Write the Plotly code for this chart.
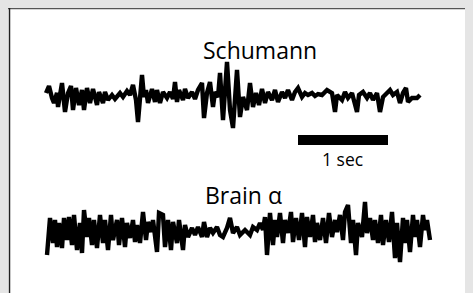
import numpy as np
import plotly.graph_objects as go

SAMPLE_RATE = 90.0  # samples per second

# Schumann resonance record: turning points (sample index, amplitude)
schumann_samples = [0, 3, 6, 8, 11, 12, 16, 19, 22, 25, 27, 30, 33, 36, 38, 41, 44, 47, 51, 53,
                    57, 59, 62, 66, 69, 74, 77, 81, 84, 87, 90, 92, 96, 98, 100, 102, 106, 109, 111, 114,
                    117, 121, 124, 127, 129, 131, 133, 137, 139, 142, 146, 149, 152, 156, 158, 161, 164, 167, 169, 172,
                    174, 177, 181, 184, 187, 189, 191, 194, 197, 201, 204, 207, 210, 213, 216, 219, 222, 226, 229, 232,
                    236, 239, 242, 246, 249, 252, 256, 259, 262, 266, 269, 272, 276, 281, 286, 289, 291, 296, 299, 302,
                    306, 311, 313, 317, 321, 324, 327, 331, 334, 337, 341, 344, 347, 351, 354, 357, 360, 362, 366, 371, 374]
schumann_values = [4, 11, -1, -6, 4, -10, 14, -15, 4, 11, -13, 9, -8, 7, -13, 9, -6, 8, -8, 5,
                   -6, 5, -3, 2, -2, 4, 0, 6, 2, 12, -3, -25, 22, 0, 7, -6, 8, -5, 7, -6,
                   5, -1, 5, -2, 15, -5, 7, -3, 8, -1, 5, -2, 7, 14, -21, 4, 15, -10, 5, 0,
                   24, -23, 35, -13, -31, 7, 27, -20, 0, -13, 14, -10, 4, -8, 8, -6, 5, -3, 7, -5,
                   5, -1, 7, -3, 5, 9, 0, 4, 2, 4, 1, 3, 2, 7, 4, -15, 2, -3, 5, -1,
                   4, -15, 2, 5, -1, 4, -3, 4, -15, 0, 4, 7, 2, 5, -6, 4, 9, -5, -1, -1, 2]

# Brain alpha (EEG) record: turning points (sample index, amplitude)
brain_samples = [1, 4, 7, 9, 11, 13, 16, 18, 21, 23, 26, 28, 31, 34, 36, 38, 41, 43, 46, 48,
                 51, 54, 57, 59, 62, 65, 67, 71, 73, 76, 79, 81, 84, 87, 89, 91, 94, 97, 100, 102,
                 105, 107, 111, 113, 117, 119, 122, 125, 127, 131, 133, 137, 139, 142, 146, 149, 152, 156, 158, 161,
                 164, 167, 171, 174, 177, 181, 184, 187, 191, 194, 199, 204, 207, 211, 214, 217, 219, 221, 224, 227,
                 229, 231, 234, 237, 239, 242, 245, 247, 250, 253, 256, 259, 261, 264, 267, 269, 271, 274, 277, 280,
                 283, 286, 289, 291, 294, 297, 299, 302, 305, 307, 310, 312, 316, 319, 321, 324, 327, 329, 332, 335,
                 337, 340, 343, 346, 349, 351, 354, 357, 359, 361, 364, 367, 369, 371, 374, 377, 379, 381, 384]
brain_values = [-23, 14, -11, 12, -15, 9, -16, 14, -8, 15, -13, 17, -18, 9, -21, 22, -5, 14, -13, 12,
                -16, 17, -11, 12, -18, 17, -8, 12, -13, 14, -15, 9, -6, 12, -10, 7, -11, 20, -8, 10,
                0, 12, -20, 19, 17, -15, 12, -18, 10, -11, 12, -18, 7, -5, 4, -3, 5, -5, 10, -5,
                4, -1, 5, -3, -5, 4, 14, -1, 5, -3, 2, -3, 5, 2, 9, 2, 15, -23, 19, -13,
                12, -5, 19, -11, 12, -1, 20, -10, 14, -8, 19, -15, 15, -5, 17, -10, 9, -8, 14, -11,
                19, -5, 12, 0, 17, -8, 20, 27, -11, 12, -23, 9, -5, 30, -1, 14, -8, 12, -11, 17,
                -13, 12, -10, 20, -26, 9, -30, 14, -11, 12, -20, 17, -5, 12, -15, 17, 2, 12, -8]

labels = {"schumann": "Schumann", "brain": "Brain α", "scale": "1 sec"}
scale_bar_start = 2.8   # seconds
scale_bar_length = 1.0  # seconds

W, H = 473, 293
OFF = 8  # page body margin in the browser
t_s = np.array(schumann_samples) / SAMPLE_RATE
t_b = np.array(brain_samples) / SAMPLE_RATE

fig = go.Figure()
fig.add_trace(go.Scatter(x=t_s, y=schumann_values, mode="lines",
                         line=dict(color="black", width=4.4), yaxis="y", showlegend=False,
                         hoverinfo="skip"))
fig.add_trace(go.Scatter(x=t_b, y=brain_values, mode="lines",
                         line=dict(color="black", width=4.4), yaxis="y2", showlegend=False,
                         hoverinfo="skip"))

# scale bar in Schumann axis units
fig.add_shape(type="rect", xref="x", yref="y",
              x0=scale_bar_start, x1=scale_bar_start + scale_bar_length,
              y0=-48, y1=-38, fillcolor="black", line=dict(width=0))

# frame lines along the top and left edges of the panel
fig.add_shape(type="line", xref="paper", yref="paper", x0=0, x1=1, y0=1 - 0.5 / H, y1=1 - 0.5 / H,
              line=dict(color="#555555", width=1.5))
fig.add_shape(type="line", xref="paper", yref="paper", x0=1.5 / W, x1=1.5 / W, y0=0, y1=1,
              line=dict(color="#222222", width=1.5))

def px(x, y):
    return (x - OFF) / W, 1 - (y - OFF) / H

x, y = px(260, 50)
fig.add_annotation(text=labels["schumann"], xref="paper", yref="paper", x=x, y=y,
                   xanchor="center", yanchor="middle", showarrow=False,
                   font=dict(family="Open Sans", size=23, color="black"))
x, y = px(243, 195)
fig.add_annotation(text=labels["brain"], xref="paper", yref="paper", x=x, y=y,
                   xanchor="center", yanchor="middle", showarrow=False,
                   font=dict(family="Open Sans", size=23, color="black"))
x, y = px(342, 159)
fig.add_annotation(text=labels["scale"], xref="paper", yref="paper", x=x, y=y,
                   xanchor="center", yanchor="middle", showarrow=False,
                   font=dict(family="Open Sans", size=17.5, color="black"))

fig.update_layout(
    width=W, height=H,
    margin=dict(l=0, r=0, t=0, b=0),
    paper_bgcolor="white", plot_bgcolor="rgba(0,0,0,0)",
    xaxis=dict(range=[-(46 - OFF) / SAMPLE_RATE, (W - 46 + OFF) / SAMPLE_RATE], visible=False, fixedrange=True),
    yaxis=dict(range=[97 - OFF - H, 97 - OFF], visible=False, domain=[0, 1], fixedrange=True),
    yaxis2=dict(range=[232 - OFF - H, 232 - OFF], visible=False, domain=[0, 1], overlaying="y", fixedrange=True),
)

fig.write_html("out.html", config={"displayModeBar": False},
               post_script="document.body.style.background='#e5e5e5';document.body.style.overflow='hidden';")
